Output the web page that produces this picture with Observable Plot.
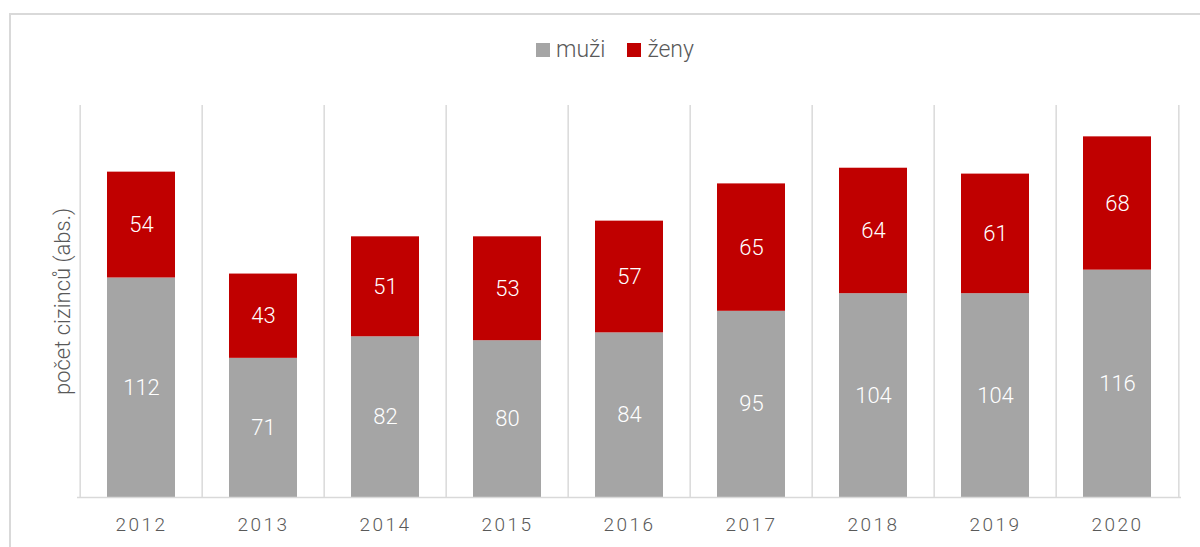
<!DOCTYPE html>
<html>
<head>
<meta charset="utf-8">
<script src="https://cdn.jsdelivr.net/npm/d3@7"></script>
<script src="https://cdn.jsdelivr.net/npm/@observablehq/plot@0.6"></script>
<style>
  html, body { margin: 0; padding: 0; background: #fff; overflow: hidden; width: 1200px; height: 547px; }
  body { position: relative; font-family: "Roboto", sans-serif; font-weight: 300; }
  #frame { position: absolute; left: 9px; top: 13px; width: 1300px; height: 700px; border: 2px solid #d9d9d9; box-sizing: border-box; }
  #legend { position: absolute; top: 36px; left: 0; width: 1230px; display: flex; justify-content: center; gap: 22px; font-size: 23px; color: #595959; font-weight: 300; }
  #legend .item { display: flex; align-items: center; gap: 6px; }
  #legend .sw { width: 14px; height: 14px; display: inline-block; }
  #chart { position: absolute; left: 0; top: 80px; }
  #chart svg text { font-weight: 300; }
</style>
</head>
<body>
<div id="frame"></div>
<div id="legend"></div>
<div id="chart"></div>
<script>
const years = ["2012","2013","2014","2015","2016","2017","2018","2019","2020"];
const men   = [112, 71, 82, 80, 84, 95, 104, 104, 116];
const women = [54, 43, 51, 53, 57, 65, 64, 61, 68];
const seriesNames = ["muži", "ženy"];
const seriesColors = ["#a5a5a5", "#c00000"];
const yLabel = "počet cizinců (abs.)";

const rows = [];
years.forEach((yr, i) => {
  rows.push({year: yr, series: seriesNames[0], value: men[i]});
  rows.push({year: yr, series: seriesNames[1], value: women[i]});
});

// legend
const leg = document.getElementById("legend");
seriesNames.forEach((s, i) => {
  const it = document.createElement("div");
  it.className = "item";
  const sw = document.createElement("span");
  sw.className = "sw"; sw.style.background = seriesColors[i];
  const t = document.createElement("span"); t.textContent = s;
  it.appendChild(sw); it.appendChild(t); leg.appendChild(it);
});

const W = 1200, H = 467, mL = 77, mR = 19;
const step = (W - mL - mR) / years.length;

const chart = Plot.plot({
  width: W, height: H,
  marginLeft: mL, marginRight: mR, marginTop: 25, marginBottom: 50,
  style: {fontFamily: '"Roboto", sans-serif', background: "transparent"},
  x: {domain: years, paddingInner: 0.446, paddingOuter: 0.223, label: null},
  y: {domain: [0, 200], axis: null},
  color: {domain: seriesNames, range: seriesColors},
  marks: [
    Plot.ruleX(years, {x: d => d, dx: -step / 2, y1: 0, y2: 200, stroke: "#d9d9d9", strokeWidth: 1.5}),
    Plot.ruleX([years[years.length - 1]], {x: d => d, dx: step / 2, y1: 0, y2: 200, stroke: "#d9d9d9", strokeWidth: 1.5}),
    Plot.barY(rows, {x: "year", y: "value", fill: "series", order: seriesNames}),
    Plot.ruleY([0], {stroke: "#d9d9d9", strokeWidth: 1.5}),
    Plot.text(rows, Plot.stackY({x: "year", y: "value", z: "series", order: seriesNames, text: d => String(d.value), fill: "white", fontSize: 22, fontWeight: 300})),
    Plot.axisX({tickSize: 0, tickPadding: 20, fontSize: 19, color: "#595959", label: null, tickFormat: d => d}),
    Plot.text([yLabel], {frameAnchor: "left", textAnchor: "middle", dx: -15, rotate: -90, fill: "#595959", fontSize: 22, fontWeight: 300})
  ]
});
chart.querySelectorAll('[aria-label="x-axis tick label"] text').forEach(t => t.setAttribute("letter-spacing", "2.5"));
document.getElementById("chart").appendChild(chart);
</script>
</body>
</html>
